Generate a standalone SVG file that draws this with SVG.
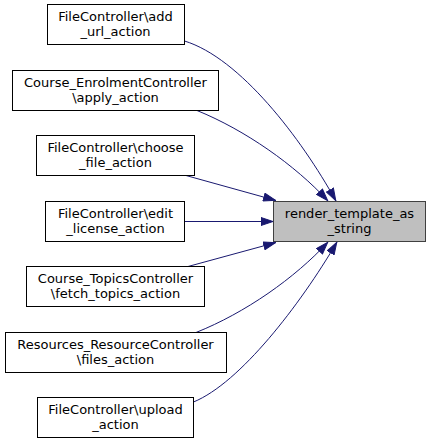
<svg xmlns="http://www.w3.org/2000/svg" width="431" height="444" viewBox="0 0 431 444">
<style>
.node rect{fill:#ffffff;stroke:#000000;stroke-width:1}
.node.target rect{fill:#bfbfbf;stroke:#404040}
text{font-family:"DejaVu Sans",sans-serif;font-size:13px;fill:#000000;text-anchor:middle}
.edges path{fill:none;stroke:#191970;stroke-width:1}
</style>
<defs>
<marker id="arr" viewBox="0 0 13 9" refX="13" refY="4.5" markerWidth="13" markerHeight="9" markerUnits="userSpaceOnUse" orient="auto">
<path d="M0.5,0.5 L12.5,4.5 L0.5,8.5 z" fill="#191970" stroke="#191970" stroke-width="1"/>
</marker>
</defs>
<rect width="431" height="444" fill="#ffffff"/>
<g class="edges">
<path d="M184.5,41 C240,58 301,138 336,201" marker-end="url(#arr)"/>
<path d="M197,110.5 C245,130 295,165 328,201" marker-end="url(#arr)"/>
<path d="M186,175.5 L276,200.5" marker-end="url(#arr)"/>
<path d="M184.5,221.5 L273.5,221.5" marker-end="url(#arr)"/>
<path d="M188,266.5 L276,242.5" marker-end="url(#arr)"/>
<path d="M196,332.5 C245,313 295,278 328,242" marker-end="url(#arr)"/>
<path d="M193.5,402 C240,383 300,305 337,242" marker-end="url(#arr)"/>
</g>
<g id="n1" class="node"><rect x="47.5" y="4.5" width="137" height="40"/><text x="115.5" y="20.5">FileController\add</text><text x="115.5" y="35.5">_url_action</text></g>
<g id="n2" class="node"><rect x="12.5" y="70.5" width="206" height="40"/><text x="115.5" y="86.5">Course_EnrolmentController</text><text x="115.5" y="101.5">\apply_action</text></g>
<g id="n3" class="node"><rect x="36.5" y="135.5" width="158" height="40"/><text x="115.5" y="151.5">FileController\choose</text><text x="115.5" y="166.5">_file_action</text></g>
<g id="n4" class="node"><rect x="45.5" y="201.5" width="139" height="40"/><text x="115.5" y="217.5">FileController\edit</text><text x="115.5" y="232.5">_license_action</text></g>
<g id="n5" class="node"><rect x="26.5" y="266.5" width="178" height="40"/><text x="115.5" y="282.5">Course_TopicsController</text><text x="115.5" y="297.5">\fetch_topics_action</text></g>
<g id="n6" class="node"><rect x="5.5" y="332.5" width="221" height="40"/><text x="115.5" y="348.5">Resources_ResourceController</text><text x="115.5" y="363.5">\files_action</text></g>
<g id="n7" class="node"><rect x="37.5" y="397.5" width="156" height="40"/><text x="115.5" y="413.5">FileController\upload</text><text x="115.5" y="428.5">_action</text></g>
<g id="target" class="node target"><rect x="273.5" y="201.5" width="152" height="40"/><text x="349.5" y="217.5">render_template_as</text><text x="349.5" y="232.5">_string</text></g>
</svg>
